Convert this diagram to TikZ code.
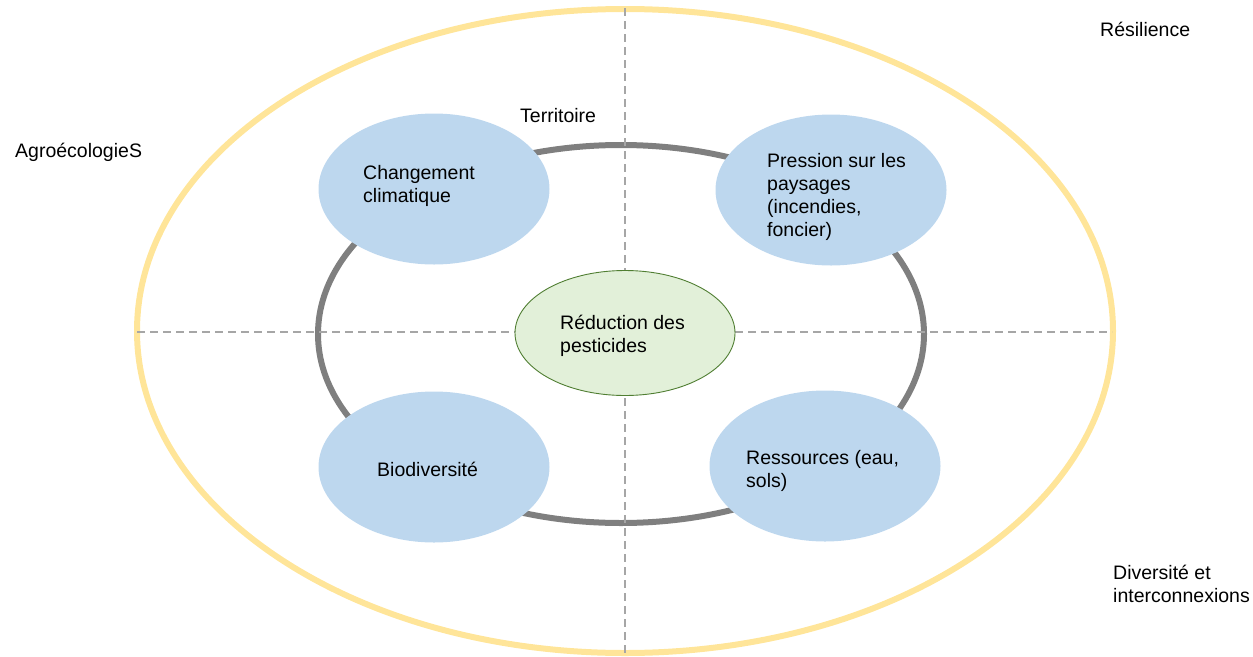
\documentclass[tikz,border=0pt]{standalone}
\usepackage{fontspec}
\setmainfont{Liberation Sans}
\usetikzlibrary{shapes.geometric}
\definecolor{ringyellow}{HTML}{FFE599}
\definecolor{ringgray}{HTML}{7F7F7F}
\definecolor{dashgray}{HTML}{A6A6A6}
\definecolor{bubbleblue}{HTML}{BDD7EE}
\definecolor{coregreen}{HTML}{E2F0D9}
\definecolor{coreline}{HTML}{507E32}
\tikzset{
    bubble/.style={ellipse,fill=bubbleblue,minimum width=231pt,minimum height=151pt,inner sep=0pt},
    core/.style={ellipse,fill=coregreen,draw=coreline,line width=0.9pt,minimum width=220pt,minimum height=125pt,inner sep=0pt},
    txt/.style={anchor=base west,inner sep=0pt,align=left,font=\fontsize{19.5}{23}\selectfont},
    axis/.style={dashgray,line width=1.8pt,dash pattern=on 8pt off 5pt}
}
\begin{document}
\begin{tikzpicture}[x=1pt,y=-1pt]
        \useasboundingbox (0,0) rectangle (1253,656);
        % outer ring and territory ring
        \draw[ringyellow,line width=6pt] (625,331) ellipse (488pt and 322pt);
        \draw[ringgray,line width=6pt] (621,334) ellipse (303pt and 189pt);
        % axes
        \coordinate (top) at (625,8);
        \coordinate (bottom) at (625,656);
        \coordinate (left) at (137,332);
        \coordinate (right) at (1112,332);
        \draw[axis] (top) -- (bottom);
        \draw[axis] (left) -- (right);
        % bubbles
        \node[bubble] (climat) at (434,189) {};
        \node[bubble] (paysage) at (831,190) {};
        \node[bubble] (biodiv) at (434,467) {};
        \node[bubble] (ressource) at (825,466) {};
        \node[core] (reduction) at (625,333) {};
        % texts, placed at the baseline of their last line
        \node[txt] (climattxt) at (363,202) {Changement\\climatique};
        \node[txt] (paysagetxt) at (767,236) {Pression sur les\\paysages\\(incendies,\\foncier)};
        \node[txt] (biodivtxt) at (377,476) {Biodiversité};
        \node[txt] (ressourcetxt) at (746,487) {Ressources (eau,\\sols)};
        \node[txt] (reductiontxt) at (560,352.5) {Réduction des\\pesticides};
        % outside labels
        \node[txt] (resilience) at (1100,36) {Résilience};
        \node[txt] (agro) at (15,157) {AgroécologieS};
        \node[txt] (territoire) at (520,122) {Territoire};
        \node[txt] (diversite) at (1113,602) {Diversité et\\interconnexions};
\end{tikzpicture}
\end{document}
